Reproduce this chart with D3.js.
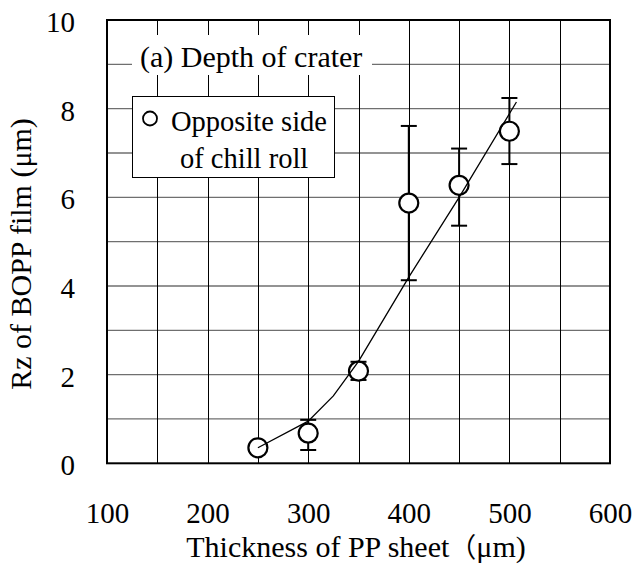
<!DOCTYPE html>
<html>
<head>
<meta charset="utf-8">
<script src="https://cdn.jsdelivr.net/npm/d3@7"></script>
<style>
  html, body { margin: 0; padding: 0; background: #fff; }
  svg { display: block; }
  svg text { font-family: "Liberation Serif", Tinos, "Times New Roman", Times, serif; }
</style>
</head>
<body>
<svg id="chart" width="637" height="566" font-family="Liberation Serif, Times New Roman, serif"></svg>
<script>
// Measured roughness of BOPP film vs. PP sheet thickness
const thickness = [250, 300, 350, 400, 450, 500];          // µm
const rzMean    = [0.35, 0.68, 2.08, 5.87, 6.27, 7.49];    // µm
const rzLow     = [0.35, 0.30, 1.88, 4.13, 5.36, 6.75];
const rzHigh    = [0.35, 0.98, 2.29, 7.61, 7.10, 8.24];

// Trend line
const trendX = [250, 300, 325, 350, 400, 450, 507];
const trendY = [0.35, 0.95, 1.52, 2.30, 4.20, 6.00, 8.15];

const xTicks = [100, 200, 300, 400, 500, 600];
const yTicks = [0, 2, 4, 6, 8, 10];
const xGrid  = d3.range(150, 600, 50);
const yGrid  = d3.range(1, 10, 1);

const titleText  = "(a) Depth of crater";
const legendText = ["Opposite side", "of chill roll"];
const xLabel = "Thickness of PP sheet";
const xUnit  = ["\uFF08", "\u03BCm)"];
const yLabel = "Rz of BOPP film (\u03BCm)";

const svg = d3.select("#chart");
const L = 107, R = 610, T = 20, B = 463.3;

const x = d3.scaleLinear().domain([100, 600]).range([L, R]);
const y = d3.scaleLinear().domain([0, 10]).range([B, T]);

// grid
svg.append("g").selectAll("line").data(yGrid).join("line")
  .attr("x1", L).attr("x2", R)
  .attr("y1", d => y(d)).attr("y2", d => y(d))
  .attr("stroke", "#6f6f6f").attr("stroke-width", 1.3);
svg.append("g").selectAll("line").data(xGrid).join("line")
  .attr("x1", d => Math.round(x(d)) + 0.5).attr("x2", d => Math.round(x(d)) + 0.5)
  .attr("y1", T).attr("y2", B)
  .attr("stroke", "#000").attr("stroke-width", 1);

// title with white backing
svg.append("rect").attr("x", 132).attr("y", 35).attr("width", 240).attr("height", 40).attr("fill", "#fff");
svg.append("text").attr("x", 140).attr("y", 66.7).attr("font-size", 30).text(titleText);

// legend
const lg = svg.append("g");
lg.append("rect").attr("x", 132.5).attr("y", 96.5).attr("width", 202).attr("height", 81)
  .attr("fill", "#fff").attr("stroke", "#000").attr("stroke-width", 1);
lg.append("circle").attr("cx", 150).attr("cy", 118.5).attr("r", 7)
  .attr("fill", "#fff").attr("stroke", "#000").attr("stroke-width", 1.8);
lg.append("text").attr("x", 171).attr("y", 131).attr("font-size", 28.5).text(legendText[0]);
lg.append("text").attr("x", 180).attr("y", 168).attr("font-size", 28.5).text(legendText[1]);

// error bars
const pts = thickness.map((t, i) => ({ t, m: rzMean[i], lo: rzLow[i], hi: rzHigh[i] }));
const eb = svg.append("g").attr("stroke", "#000").attr("stroke-width", 2);
pts.forEach(p => {
  eb.append("line").attr("x1", x(p.t)).attr("x2", x(p.t)).attr("y1", y(p.lo)).attr("y2", y(p.hi));
  [p.lo, p.hi].forEach(v => eb.append("line")
    .attr("x1", x(p.t) - 8).attr("x2", x(p.t) + 8).attr("y1", y(v)).attr("y2", y(v)));
});

// markers
svg.append("g").selectAll("circle").data(pts).join("circle")
  .attr("cx", d => x(d.t)).attr("cy", d => y(d.m)).attr("r", 9.5)
  .attr("fill", "#fff").attr("stroke", "#000").attr("stroke-width", 2.2);

// trend line
svg.append("path")
  .datum(trendX.map((t, i) => [t, trendY[i]]))
  .attr("fill", "none").attr("stroke", "#000").attr("stroke-width", 1.3)
  .attr("d", d3.line().x(d => x(d[0])).y(d => y(d[1])));

// frame
svg.append("rect").attr("x", L).attr("y", T).attr("width", R - L).attr("height", B - T)
  .attr("fill", "none").attr("stroke", "#000").attr("stroke-width", 2);

// axes (labels only)
const xAxis = svg.append("g").attr("transform", `translate(0,${B})`)
  .call(d3.axisBottom(x).tickValues(xTicks).tickSize(0).tickPadding(39).tickFormat(d3.format("d")));
const yAxis = svg.append("g").attr("transform", `translate(${L},0)`)
  .call(d3.axisLeft(y).tickValues(yTicks).tickSize(0).tickPadding(32).tickFormat(d3.format("d")));
[xAxis, yAxis].forEach(a => {
  a.attr("font-family", null).attr("font-size", null);
  a.select(".domain").remove();
  a.selectAll("text").attr("font-size", 29).attr("fill", "#000");
});
yAxis.selectAll("text").attr("dy", "0.4em");

// axis titles
const xt = svg.append("text").attr("x", 356).attr("y", 556.7).attr("text-anchor", "middle")
  .attr("font-size", 30);
xt.append("tspan").text(xLabel);
xt.append("tspan").style("font-family", '"Noto Sans CJK JP"').attr("font-size", 27).text(xUnit[0]);
xt.append("tspan").text(xUnit[1]);
svg.append("text").attr("transform", "translate(31,254) rotate(-90)").attr("text-anchor", "middle")
  .attr("font-size", 30).text(yLabel);
</script>
</body>
</html>
